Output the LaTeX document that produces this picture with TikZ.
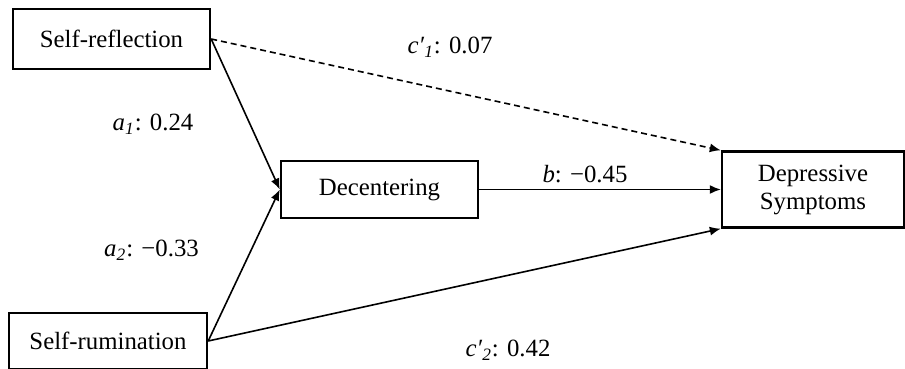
\documentclass[tikz,border=0pt]{standalone}
\usepackage{fontspec}
\setmainfont{Liberation Serif}
\usetikzlibrary{arrows.meta}

\tikzset{
  varbox/.style={draw, line width=1.2pt, inner sep=0pt, align=center},
  path/.style={line width=0.8pt, -{Latex[length=5.5pt,width=4.5pt]}},
  coef/.style={inner sep=0pt}
}

\begin{document}
\begin{tikzpicture}[x=0.5pt,y=-0.5pt,font=\fontsize{12.4}{14}\selectfont]
\useasboundingbox (0,0) rectangle (905,369);
% variables
\node[varbox, minimum width=98.5pt, minimum height=30pt] (refl) at (111.5,39) {Self-reflection};
\node[varbox, minimum width=98.5pt, minimum height=28.5pt] (decent) at (379.5,189.5) {Decentering};
\node[varbox, minimum width=91pt, minimum height=38pt] (depress) at (813,189.5) {Depressive\\Symptoms};
\node[varbox, minimum width=99pt, minimum height=28pt] (rumin) at (108,341) {Self-rumination};
% paths
\draw[path] (refl.east) -- (decent.west);
\draw[path] (rumin.east) -- (decent.west);
\draw[path, dash pattern=on 3pt off 2pt] (refl.east) -- (depress.north west);
\draw[path] (decent.east) -- (depress.west |- decent.east);
\draw[path] (rumin.east) -- (depress.south west);
% coefficients
\node[coef] (ca1) at (153,124) {\textit{a}\textsubscript{\textit{1}}: 0.24};
\node[coef] (ca2) at (151.5,250) {\textit{a}\textsubscript{\textit{2}}: −0.33};
\node[coef] (cb) at (585,174) {\textit{b}: −0.45};
\node[coef] (cc1) at (450,47) {\textit{c′}\textsubscript{\textit{1}}: 0.07};
\node[coef] (cc2) at (508,350) {\textit{c′}\textsubscript{\textit{2}}: 0.42};
\end{tikzpicture}
\end{document}
